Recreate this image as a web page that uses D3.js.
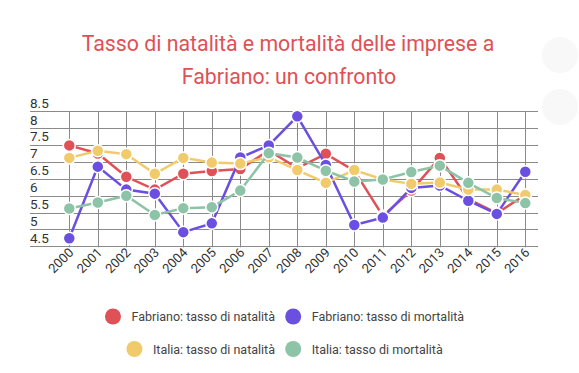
<!DOCTYPE html>
<html lang="it">
<head>
  <meta charset="UTF-8"/>
  <title>Tasso di natalità e mortalità delle imprese a Fabriano</title>
  <script src="https://d3js.org/d3.v7.min.js"></script>
  <style>
    body { margin: 0; background: #fff; font-family: Roboto, "Noto Sans", sans-serif; }
    svg { display: block; }
  </style>
</head>
<body>
<svg id="chart" width="579" height="373"></svg>
<script>
// data
const years = ["2000","2001","2002","2003","2004","2005","2006","2007","2008","2009","2010","2011","2012","2013","2014","2015","2016"];
const fabNatalita  = [7.24, 7.00, 6.31, 5.93, 6.40, 6.48, 6.54, 7.09, 6.57, 6.99, 6.49, 5.15, 5.90, 6.87, 5.65, 5.23, 5.77];
const fabMortalita = [4.49, 6.61, 5.93, 5.81, 4.67, 4.93, 6.88, 7.24, 8.10, 6.66, 4.88, 5.10, 5.98, 6.05, 5.60, 5.21, 6.46];
const itaNatalita  = [6.87, 7.08, 6.98, 6.40, 6.87, 6.73, 6.70, 6.89, 6.51, 6.13, 6.51, 6.23, 6.10, 6.14, 5.93, 5.93, 5.77];
const itaMortalita = [5.37, 5.55, 5.75, 5.18, 5.38, 5.41, 5.90, 7.01, 6.88, 6.49, 6.17, 6.23, 6.45, 6.64, 6.13, 5.68, 5.53];
const yTicks = [4.5, 5, 5.5, 6, 6.5, 7, 7.5, 8, 8.5];
const yGrid = [4.25, 4.75, 5.25, 5.75, 6.25, 6.75, 7.25, 7.75, 8.25];

const series = [
  { name: "Fabriano: tasso di natalità",  values: fabNatalita,  color: "#df5157" },
  { name: "Fabriano: tasso di mortalità", values: fabMortalita, color: "#6a4fe0" },
  { name: "Italia: tasso di natalità",    values: itaNatalita,  color: "#f1cb6b" },
  { name: "Italia: tasso di mortalità",   values: itaMortalita, color: "#8dc3a6" }
];

const svg = d3.select("#chart");

// faint decorations at the right edge
svg.append("circle").attr("cx", 560).attr("cy", 55).attr("r", 18).attr("fill", "#f8f8f8");
svg.append("circle").attr("cx", 560).attr("cy", 107).attr("r", 18).attr("fill", "#f8f8f8");

// title
const title = svg.append("text")
  .attr("text-anchor", "middle")
  .attr("fill", "#df5157")
  .style("font-size", "21.3px");
title.append("tspan").attr("x", 288).attr("y", 51).text("Tasso di natalità e mortalità delle imprese a");
title.append("tspan").attr("x", 289).attr("y", 84).text("Fabriano: un confronto");

const x = d3.scalePoint().domain(years).range([69.3, 525.3]);
const y = d3.scaleLinear().domain([4.25, 8.25]).range([246.3, 111.3]);

const gridLeft = 30, gridRight = 538;

// horizontal grid
svg.append("g").selectAll("line")
  .data(yGrid).enter().append("line")
  .attr("x1", gridLeft).attr("x2", gridRight)
  .attr("y1", d => Math.round(y(d)) + 0.5).attr("y2", d => Math.round(y(d)) + 0.5)
  .attr("stroke", "#8a8a8a").attr("stroke-width", 1);

// vertical grid
svg.append("g").selectAll("line")
  .data(years).enter().append("line")
  .attr("x1", d => Math.round(x(d)) + 0.5).attr("x2", d => Math.round(x(d)) + 0.5)
  .attr("y1", y(8.25)).attr("y2", y(4.25) + 1)
  .attr("stroke", "#8a8a8a").attr("stroke-width", 1);

// y labels
svg.append("g").selectAll("text")
  .data(yTicks).enter().append("text")
  .attr("x", gridLeft)
  .attr("y", d => y(d))
  .attr("dy", "0.36em")
  .attr("fill", "#333")
  .style("font-size", "13.5px")
  .text(d => d);

// x labels
svg.append("g").selectAll("text")
  .data(years).enter().append("text")
  .attr("text-anchor", "end")
  .attr("transform", d => `translate(${x(d) + 5},${y(4.25) + 7}) rotate(-45)`)
  .attr("fill", "#333")
  .style("font-size", "13px")
  .text(d => d);

// lines and points
const line = d3.line().x((d, i) => x(years[i])).y(d => y(d));

series.forEach(s => {
  const g = svg.append("g");
  g.append("path")
    .attr("d", line(s.values))
    .attr("fill", "none")
    .attr("stroke", s.color)
    .attr("stroke-width", 2.5);
  g.selectAll("circle")
    .data(s.values).enter().append("circle")
    .attr("cx", (d, i) => x(years[i]))
    .attr("cy", d => y(d))
    .attr("r", 6)
    .attr("fill", s.color)
    .attr("stroke", "#fff")
    .attr("stroke-width", 1.5);
});

// legend: two columns, left column right-aligned
const legend = svg.append("g").style("font-size", "12.5px");
const rows = [316.5, 349];
series.forEach((s, i) => {
  const row = Math.floor(i / 2), col = i % 2;
  const item = legend.append("g");
  const t = item.append("text")
    .attr("y", rows[row])
    .attr("dy", "0.36em")
    .attr("fill", "#444")
    .text(s.name);
  const w = t.node().getComputedTextLength();
  let tx = col === 0 ? 275 - w : 311.7;
  t.attr("x", tx);
  item.append("circle")
    .attr("cx", tx - 18.5)
    .attr("cy", rows[row])
    .attr("r", 8)
    .attr("fill", s.color);
});
</script>
</body>
</html>
